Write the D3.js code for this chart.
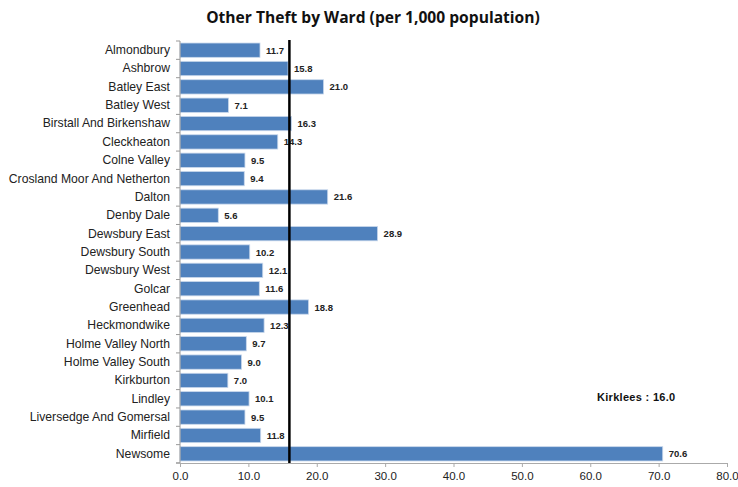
<!DOCTYPE html>
<html>
<head>
<meta charset="utf-8">
<script src="https://cdn.jsdelivr.net/npm/d3@7"></script>
<style>
  body { margin: 0; background: #fff; }
  svg { display: block; }
</style>
</head>
<body>
<svg id="chart" width="738" height="487"></svg>
<script>
const wards = [
  "Almondbury", "Ashbrow", "Batley East", "Batley West", "Birstall And Birkenshaw",
  "Cleckheaton", "Colne Valley", "Crosland Moor And Netherton", "Dalton", "Denby Dale",
  "Dewsbury East", "Dewsbury South", "Dewsbury West", "Golcar", "Greenhead",
  "Heckmondwike", "Holme Valley North", "Holme Valley South", "Kirkburton", "Lindley",
  "Liversedge And Gomersal", "Mirfield", "Newsome"
];
const rates = [
  11.7, 15.8, 21.0, 7.1, 16.3,
  14.3, 9.5, 9.4, 21.6, 5.6,
  28.9, 10.2, 12.1, 11.6, 18.8,
  12.3, 9.7, 9.0, 7.0, 10.1,
  9.5, 11.8, 70.6
];
const xTicks = [0, 10, 20, 30, 40, 50, 60, 70, 80];
const kirkleesAverage = 16.0;
const titleText = "Other Theft by Ward (per 1,000 population)";

const svg = d3.select("#chart");
const margin = { top: 41, left: 180, right: 11, bottom: 25 };

const x = d3.scaleLinear().domain([0, 80]).range([margin.left, 727]);
const y = d3.scaleBand().domain(wards).range([margin.top, 463]).paddingInner(0.22).paddingOuter(0.11);

// Title
svg.append("text")
  .attr("x", 373).attr("y", 23)
  .attr("text-anchor", "middle")
  .style("font-family", "'Open Sans', sans-serif")
  .style("font-weight", "bold")
  .style("font-size", "15.6px")
  .attr("fill", "#111")
  .text(titleText);

// Bars
svg.append("g").selectAll("rect")
  .data(wards)
  .join("rect")
  .attr("x", x(0))
  .attr("y", d => y(d))
  .attr("width", (d, i) => x(rates[i]) - x(0))
  .attr("height", y.bandwidth())
  .attr("fill", "#4F81BD")
  .attr("stroke", "#c9d8ec")
  .attr("stroke-width", 0.8);

// Value labels
svg.append("g").selectAll("text")
  .data(wards)
  .join("text")
  .attr("x", (d, i) => x(rates[i]) + 6)
  .attr("y", d => y(d) + y.bandwidth() / 2 + 3.5)
  .style("font-family", "'Liberation Sans', Arial, sans-serif")
  .style("font-weight", "bold")
  .style("font-size", "9.5px")
  .attr("fill", "#222")
  .text((d, i) => rates[i].toFixed(1));

// Y axis
const yAxis = svg.append("g")
  .attr("transform", `translate(${x(0)},0)`)
  .call(d3.axisLeft(y).tickSize(4).tickPadding(6));
yAxis.select(".domain").attr("stroke", "#999").attr("d", `M-4,${margin.top}H0V463H-4`);
yAxis.selectAll(".tick line").attr("stroke", "#999").attr("transform", `translate(0,${y.step() / 2})`);
yAxis.selectAll(".tick text")
  .style("font-family", "'Liberation Sans', Arial, sans-serif")
  .style("font-size", "12.2px")
  .attr("fill", "#222");

// X axis
const xAxis = svg.append("g")
  .attr("transform", "translate(0,463)")
  .call(d3.axisBottom(x).tickValues(xTicks).tickFormat(d3.format(".1f")).tickSize(4).tickSizeOuter(0).tickPadding(5));
xAxis.select(".domain").attr("stroke", "#aaa");
xAxis.selectAll(".tick line").attr("stroke", "#aaa");
xAxis.selectAll(".tick text")
  .style("font-family", "'Liberation Sans', Arial, sans-serif")
  .style("font-size", "11.5px")
  .attr("fill", "#222");

// Kirklees average line
svg.append("line")
  .attr("x1", x(kirkleesAverage)).attr("x2", x(kirkleesAverage))
  .attr("y1", 40).attr("y2", 463)
  .attr("stroke", "#000")
  .attr("stroke-width", 2.5);

svg.append("text")
  .attr("x", 597).attr("y", 401)
  .style("font-family", "'Liberation Sans', Arial, sans-serif")
  .style("font-weight", "bold")
  .style("font-size", "11px")
  .style("letter-spacing", "0.3px")
  .attr("fill", "#111")
  .text("Kirklees : " + kirkleesAverage.toFixed(1));
</script>
</body>
</html>
